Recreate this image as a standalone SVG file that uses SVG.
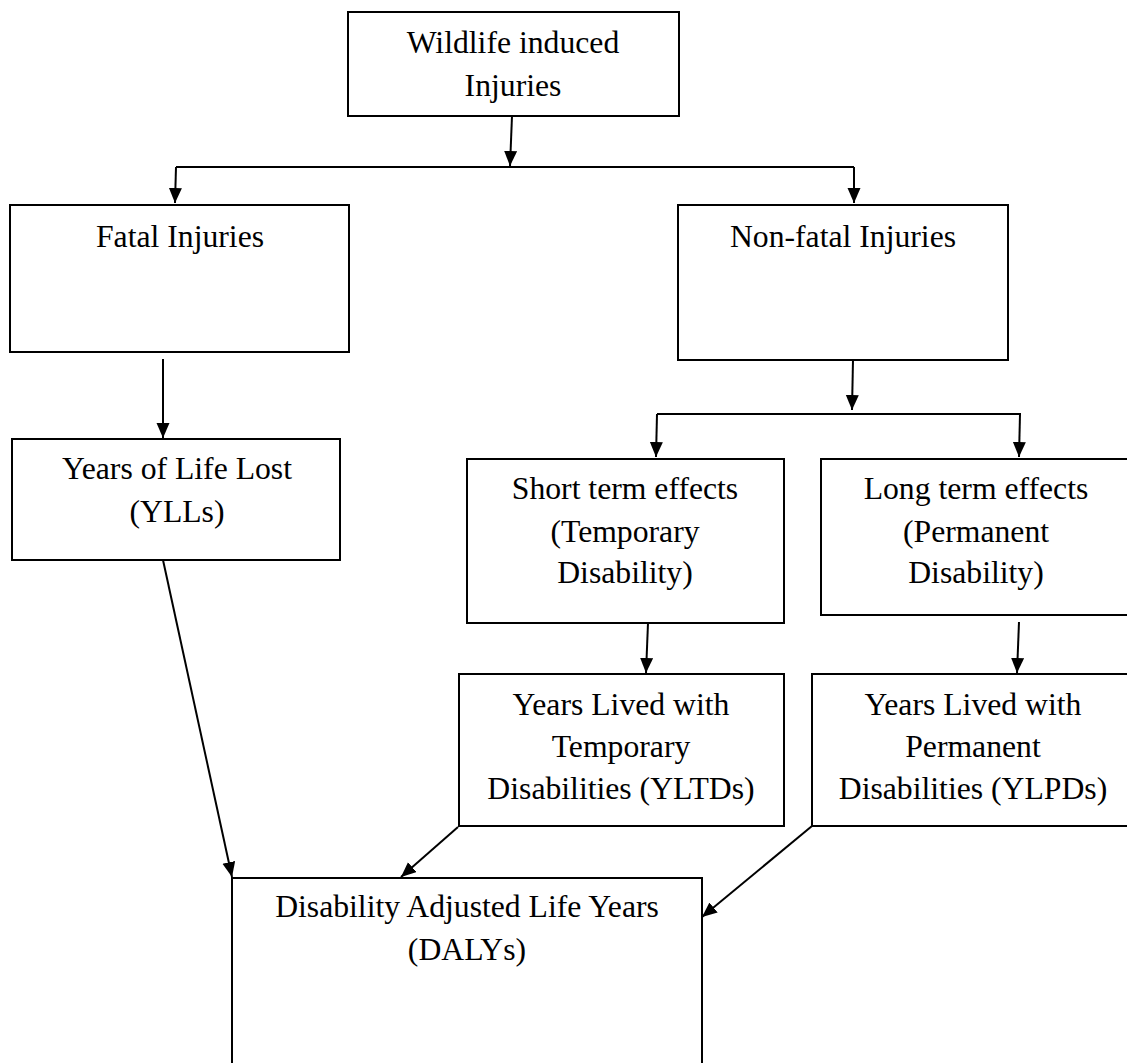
<svg xmlns="http://www.w3.org/2000/svg" width="1127" height="1063" viewBox="0 0 1127 1063">
<style>
.box{fill:#fff;stroke:#000;stroke-width:2}
.lbl{font-family:"Liberation Serif","Times New Roman",serif;font-size:31.7px;fill:#000;text-anchor:middle}
.con{fill:none;stroke:#000;stroke-width:2}
</style>
<defs>
<marker id="arr" markerUnits="userSpaceOnUse" markerWidth="16" markerHeight="14" refX="15" refY="6.5" orient="auto">
<path d="M0,0 L15,6.5 L0,13 z" fill="#000"/>
</marker>
</defs>
<rect width="1127" height="1063" fill="#fff"/>
<g id="connectors">
<path class="con" d="M512,116 L510,166" marker-end="url(#arr)"/>
<path class="con" d="M176,167 L854,167"/>
<path class="con" d="M176,167 L175,203" marker-end="url(#arr)"/>
<path class="con" d="M854,167 L854,203" marker-end="url(#arr)"/>
<path class="con" d="M163,359 L163,438" marker-end="url(#arr)"/>
<path class="con" d="M853,360 L852,410" marker-end="url(#arr)"/>
<path class="con" d="M657,414 L1021,414"/>
<path class="con" d="M657,414 L656,457" marker-end="url(#arr)"/>
<path class="con" d="M1020,414 L1019,457" marker-end="url(#arr)"/>
<path class="con" d="M648,623 L646,673" marker-end="url(#arr)"/>
<path class="con" d="M1019,622 L1017,673" marker-end="url(#arr)"/>
<path class="con" d="M163,560 L232,877" marker-end="url(#arr)"/>
<path class="con" d="M458,827 L401,877" marker-end="url(#arr)"/>
<path class="con" d="M812,826 L702,917" marker-end="url(#arr)"/>
</g>
<g id="wildlife">
<rect class="box" x="348" y="12" width="331" height="104"/>
<text class="lbl" x="513" y="53">Wildlife induced</text>
<text class="lbl" x="513" y="96">Injuries</text>
</g>
<g id="fatal">
<rect class="box" x="10" y="205" width="339" height="147"/>
<text class="lbl" x="180" y="247">Fatal Injuries</text>
</g>
<g id="nonfatal">
<rect class="box" x="678" y="205" width="330" height="155"/>
<text class="lbl" x="843" y="247">Non-fatal Injuries</text>
</g>
<g id="yll">
<rect class="box" x="12" y="439" width="328" height="121"/>
<text class="lbl" x="177" y="479">Years of Life Lost</text>
<text class="lbl" x="177" y="522">(YLLs)</text>
</g>
<g id="shortterm">
<rect class="box" x="467" y="459" width="317" height="164"/>
<text class="lbl" x="625" y="499">Short term effects</text>
<text class="lbl" x="625" y="542">(Temporary</text>
<text class="lbl" x="625" y="583">Disability)</text>
</g>
<g id="longterm">
<rect class="box" x="821" y="459" width="310" height="156"/>
<text class="lbl" x="976" y="499">Long term effects</text>
<text class="lbl" x="976" y="542">(Permanent</text>
<text class="lbl" x="976" y="583">Disability)</text>
</g>
<g id="yltd">
<rect class="box" x="459" y="674" width="325" height="152"/>
<text class="lbl" x="621" y="715">Years Lived with</text>
<text class="lbl" x="621" y="757">Temporary</text>
<text class="lbl" x="621" y="799">Disabilities (YLTDs)</text>
</g>
<g id="ylpd">
<rect class="box" x="812" y="674" width="322" height="152"/>
<text class="lbl" x="973" y="715">Years Lived with</text>
<text class="lbl" x="973" y="757">Permanent</text>
<text class="lbl" x="973" y="799">Disabilities (YLPDs)</text>
</g>
<g id="daly">
<rect class="box" x="232" y="878" width="470" height="200"/>
<text class="lbl" x="467" y="917">Disability Adjusted Life Years</text>
<text class="lbl" x="467" y="960">(DALYs)</text>
</g>
</svg>
